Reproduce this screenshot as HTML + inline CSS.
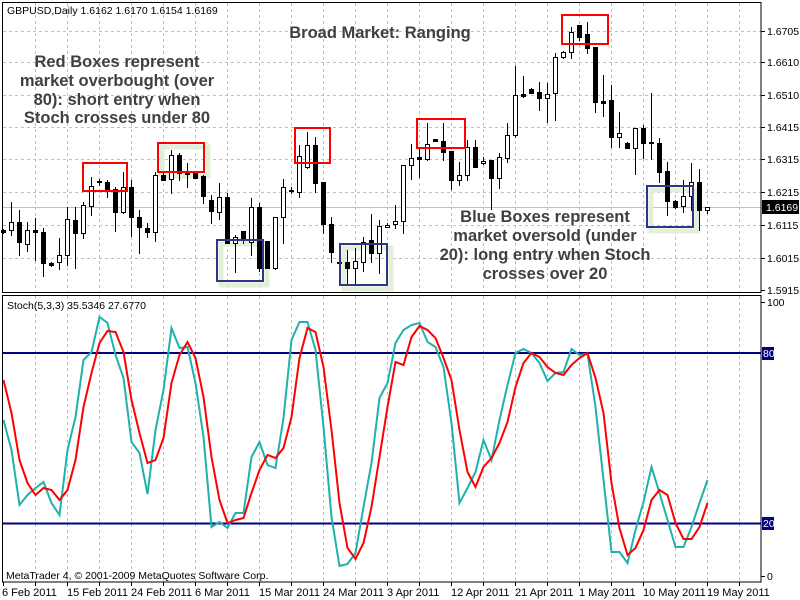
<!DOCTYPE html>
<html><head><meta charset="utf-8"><style>
html,body{margin:0;padding:0;background:#fff;}
svg{display:block;font-family:"Liberation Sans",sans-serif;}
.ax{font-size:10.5px;fill:#000;}
.dt{font-size:11px;fill:#000;}
.ann{font-size:16.5px;font-weight:bold;fill:#404040;text-anchor:middle;}
</style></head><body>
<svg id="s" width="800" height="600" viewBox="0 0 800 600" xmlns="http://www.w3.org/2000/svg">
<rect width="800" height="600" fill="#fff"/>
<g id="grid" stroke="#c0c0c0" stroke-dasharray="3,3" stroke-width="1"></g>
<line x1="3" y1="207.5" x2="761" y2="207.5" stroke="#c0c0c0"/>
<g id="glow" fill="none" stroke="#dfeed5" stroke-width="5" opacity="0.9">
<rect x="221" y="244" width="46" height="41"/>
<rect x="344" y="248" width="47" height="41"/>
<rect x="651" y="190" width="46" height="41"/>
<rect x="162" y="147" width="46" height="29"/>
</g>
<g id="candles"></g>
<g fill="none" stroke="#ff0000" stroke-width="2">
<rect x="83" y="163" width="44" height="28"/>
<rect x="158" y="143" width="46" height="29"/>
<rect x="295" y="128" width="35" height="35"/>
<rect x="417" y="119" width="48" height="29"/>
<rect x="562" y="15" width="46" height="29"/>
</g>
<g fill="none" stroke="#333388" stroke-width="2">
<rect x="217" y="240" width="46" height="41"/>
<rect x="340" y="244" width="47" height="41"/>
<rect x="647" y="186" width="46" height="41"/>
</g>
<text class="ann" x="380" y="38">Broad Market: Ranging</text>
<text class="ann" x="117" y="67">Red Boxes represent</text>
<text class="ann" x="117" y="86">market overbought (over</text>
<text class="ann" x="117" y="105">80): short entry when</text>
<text class="ann" x="117" y="123">Stoch crosses under 80</text>
<text class="ann" x="545" y="222">Blue Boxes represent</text>
<text class="ann" x="545" y="241">market oversold (under</text>
<text class="ann" x="545" y="260">20): long entry when Stoch</text>
<text class="ann" x="545" y="279">crosses over 20</text>
<text class="ax" x="7" y="14">GBPUSD,Daily  1.6162 1.6170 1.6154 1.6169</text>
<line x1="3" y1="353" x2="761" y2="353" stroke="#000080" stroke-width="2"/>
<line x1="3" y1="523.5" x2="761" y2="523.5" stroke="#000080" stroke-width="2"/>
<polyline id="kline" fill="none" stroke="#20b2aa" stroke-width="2"/>
<polyline id="dline" fill="none" stroke="#ff0000" stroke-width="2"/>
<text class="ax" x="7" y="309">Stoch(5,3,3) 35.5346 27.6770</text>
<text class="ax" x="6" y="579">MetaTrader 4, © 2001-2009 MetaQuotes Software Corp.</text>
<rect x="2.5" y="2.5" width="758.5" height="290" fill="none" stroke="#000"/>
<rect x="2.5" y="295.5" width="758.5" height="286.5" fill="none" stroke="#000"/>
<g id="ticks" stroke="#000"></g>
<g class="ax">
<text x="767" y="35">1.6705</text><text x="767" y="66">1.6610</text><text x="767" y="99">1.6510</text>
<text x="767" y="131">1.6415</text><text x="767" y="163">1.6315</text><text x="767" y="196">1.6215</text>
<text x="767" y="229">1.6115</text><text x="767" y="262">1.6015</text><text x="767" y="294">1.5915</text>
<text x="767" y="306">100</text><text x="767" y="580">0</text>
</g>
<rect x="762" y="200" width="37" height="14" fill="#000"/>
<text class="ax" x="766" y="211" style="fill:#fff">1.6169</text>
<rect x="762" y="347" width="12" height="13" fill="#000080"/>
<text class="ax" x="763" y="357" style="fill:#fff">80</text>
<rect x="762" y="517" width="12" height="13" fill="#000080"/>
<text class="ax" x="763" y="527" style="fill:#fff">20</text>
<g class="dt">
<text x="2" y="596">6 Feb 2011</text><text x="67" y="596">15 Feb 2011</text><text x="131" y="596">24 Feb 2011</text>
<text x="195" y="596">6 Mar 2011</text><text x="259" y="596">15 Mar 2011</text><text x="323" y="596">24 Mar 2011</text>
<text x="387" y="596">3 Apr 2011</text><text x="451" y="596">12 Apr 2011</text><text x="515" y="596">21 Apr 2011</text>
<text x="579" y="596">1 May 2011</text><text x="643" y="596">10 May 2011</text><text x="707" y="596">19 May 2011</text>
</g>
</svg>
<script>
var NS="http://www.w3.org/2000/svg";
function el(p,t,a){var e=document.createElementNS(NS,t);for(var k in a)e.setAttribute(k,a[k]);p.appendChild(e);return e;}
var g=document.getElementById('grid');
[31,62,95,127,159,192,225,258].forEach(function(y){el(g,'line',{x1:3,y1:y+.5,x2:761,y2:y+.5});});
for(var x=35;x<=740;x+=32){el(g,'line',{x1:x+.5,y1:3,x2:x+.5,y2:292});el(g,'line',{x1:x+.5,y1:296,x2:x+.5,y2:582});}
var tk=document.getElementById('ticks');
[31,62,95,127,159,192,225,258,290,302,576].forEach(function(y){el(tk,'line',{x1:761,y1:y+.5,x2:765,y2:y+.5});});
for(var x=3;x<=740;x+=32){el(tk,'line',{x1:x+.5,y1:582,x2:x+.5,y2:586});}
var C=[[0,229,230,232,233],[1,202,222,230,235],[0,210,222,242,255],[1,222,230,244,251],[0,218,230,232,260],[0,228,232,263,276],[0,262,263,265,266],[1,238,255,262,269],[1,207,219,255,265],[0,207,220,233,268],[1,202,205,233,238],[1,177,186,206,215],[0,179,181,182,185],[0,180,182,189,197],[0,187,189,212,231],[1,172,187,212,213],[0,180,187,217,236],[0,210,217,227,253],[0,223,228,232,237],[1,172,175,232,241],[0,171,175,180,180],[1,150,155,179,193],[0,153,155,173,180],[0,163,173,174,187],[0,172,173,178,178],[0,175,176,196,203],[0,195,200,211,223],[1,183,197,212,219],[0,193,197,243,243],[1,235,237,243,272],[0,231,231,240,243],[1,198,207,242,255],[0,203,207,268,271],[0,241,241,268,268],[1,217,217,268,269],[1,179,187,217,243],[0,187,190,191,193],[1,145,156,192,197],[1,132,145,167,168],[0,137,145,183,192],[0,182,182,224,233],[0,217,224,252,262],[0,261,262,263,263],[0,250,262,268,283],[1,248,261,268,283],[1,237,242,262,271],[0,214,240,253,262],[1,220,226,253,273],[1,223,225,227,227],[1,205,221,224,228],[1,165,165,221,233],[1,144,158,165,179],[0,148,157,159,177],[1,123,144,159,160],[0,139,139,141,141],[0,123,141,152,160],[0,151,151,180,189],[1,162,175,180,185],[1,140,147,175,180],[0,140,147,167,167],[1,157,161,163,164],[0,160,160,178,209],[1,153,157,178,188],[1,123,135,158,162],[1,66,95,135,137],[0,76,94,96,97],[0,88,89,93,93],[0,82,92,98,110],[1,83,94,98,122],[1,53,57,93,120],[1,51,52,57,58],[1,27,32,52,58],[0,25,25,37,40],[0,22,34,48,53],[0,47,47,102,112],[0,75,101,103,116],[0,85,100,137,147],[1,112,133,137,147],[0,142,143,148,148],[1,128,128,148,174],[0,125,128,143,158],[0,93,142,143,159],[0,138,143,172,182],[0,162,171,201,215],[0,200,201,207,208],[1,180,196,206,212],[1,163,182,196,210],[0,169,182,210,230],[1,207,207,210,213]];
var cg=document.getElementById('candles');
C.forEach(function(c,i){var cx=3+8*i;
el(cg,'line',{x1:cx+.5,y1:c[1],x2:cx+.5,y2:c[4]+1,stroke:'#000'});
var h=c[3]-c[2];
if(h<2){el(cg,'rect',{x:cx-2,y:c[2],width:5,height:2,fill:'#000'});}
else if(c[0]){el(cg,'rect',{x:cx-1.5,y:c[2]+.5,width:4,height:h,fill:'#fff',stroke:'#000'});}
else{el(cg,'rect',{x:cx-2,y:c[2],width:5,height:h+1,fill:'#000'});}
});
var K=[420,450,505,495,488,482,503,515,450,417,360,352,317,323,355,378,442,453,494,430,390,328,348,347,383,437,527,522,528,513,513,457,442,465,468,418,340,322,322,350,427,517,566,564,553,507,463,398,383,343,330,325,323,342,347,367,423,503,488,472,440,460,420,385,353,349,353,363,381,373,372,349,355,354,407,480,552,552,563,530,502,467,493,520,547,547,527,503,480];
var D=[380,413,460,483,495,488,490,500,490,460,407,373,343,331,332,352,400,433,463,460,438,383,355,342,358,397,457,500,523,520,518,493,470,455,458,448,417,358,328,332,367,430,503,548,559,543,507,457,407,362,365,337,326,330,338,358,380,430,472,487,467,458,443,422,387,363,353,357,367,373,375,365,358,353,378,413,483,528,555,548,530,500,490,495,523,539,539,527,503];
function pts(a){return a.map(function(v,i){return (3.5+8*i)+','+v;}).join(' ');}
document.getElementById('kline').setAttribute('points',pts(K));
document.getElementById('dline').setAttribute('points',pts(D));
</script>
</body></html>
